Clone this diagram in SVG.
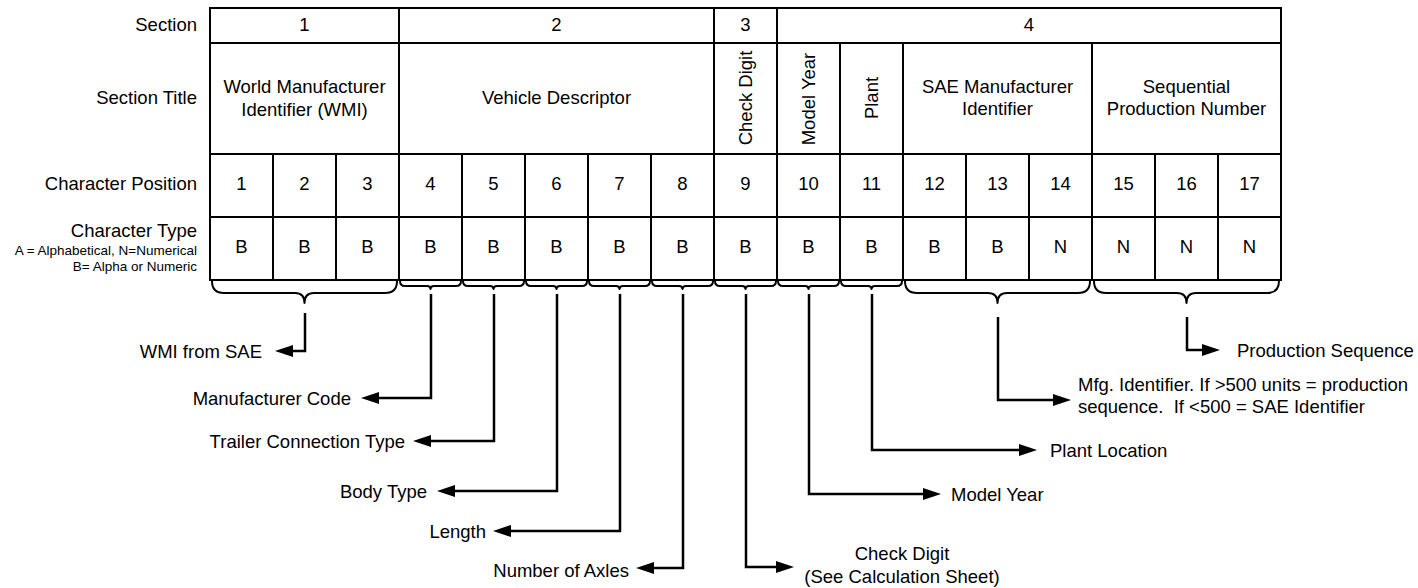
<svg xmlns="http://www.w3.org/2000/svg" width="1418" height="588" viewBox="0 0 1418 588">
<style>
text{font-family:"Liberation Sans",Arial,sans-serif;font-size:18.5px;fill:#000}
.m{text-anchor:middle}
.e{text-anchor:end}
.s{font-size:13.5px}
.grid{fill:none;stroke:#000;stroke-width:2}
.br{fill:none;stroke:#000;stroke-width:2;stroke-linejoin:round}
.c{fill:none;stroke:#000;stroke-width:2.5;marker-end:url(#ah)}
</style>
<defs>
<marker id="ah" markerUnits="userSpaceOnUse" viewBox="0 0 18 12" refX="8" refY="6" markerWidth="18" markerHeight="12" orient="auto">
<path d="M0,0 L18,6 L0,12 Z" fill="#000"/>
</marker>
</defs>
<rect width="1418" height="588" fill="#fff"/>

<g id="row-labels">
<text class="e" x="197" y="31">Section</text>
<text class="e" x="197" y="104">Section Title</text>
<text class="e" x="197" y="190">Character Position</text>
<text class="e" x="197" y="237">Character Type</text>
<text class="e s" x="197" y="255">A = Alphabetical, N=Numerical</text>
<text class="e s" x="197" y="271">B= Alpha or Numeric</text>
</g>

<g id="table">
<rect class="grid" x="210" y="8" width="1071" height="272"/>
<path class="grid" d="M210,43H1281 M210,154H1281 M210,217H1281 M399,8V280 M714,8V280 M777,8V280 M840,43V280 M903,43V280 M1092,43V280 M273,154V280 M336,154V280 M462,154V280 M525,154V280 M588,154V280 M651,154V280 M966,154V280 M1029,154V280 M1155,154V280 M1218,154V280"/>
</g>

<g id="sections">
<text class="m" x="304.5" y="31">1</text>
<text class="m" x="556.5" y="31">2</text>
<text class="m" x="745.5" y="31">3</text>
<text class="m" x="1029" y="31">4</text>
</g>

<g id="titles">
<text class="m" x="304.5" y="93">World Manufacturer</text>
<text class="m" x="304.5" y="116">Identifier (WMI)</text>
<text class="m" x="556.5" y="104">Vehicle Descriptor</text>
<text class="m" transform="rotate(-90 752 98)" x="752" y="98">Check Digit</text>
<text class="m" transform="rotate(-90 815 99)" x="815" y="99">Model Year</text>
<text class="m" transform="rotate(-90 878 98)" x="878" y="98">Plant</text>
<text class="m" x="997.5" y="93">SAE Manufacturer</text>
<text class="m" x="997.5" y="115">Identifier</text>
<text class="m" x="1186.5" y="93">Sequential</text>
<text class="m" x="1186.5" y="115">Production Number</text>
</g>

<g id="positions">
<text class="m" x="241.5" y="190">1</text>
<text class="m" x="304.5" y="190">2</text>
<text class="m" x="367.5" y="190">3</text>
<text class="m" x="430.5" y="190">4</text>
<text class="m" x="493.5" y="190">5</text>
<text class="m" x="556.5" y="190">6</text>
<text class="m" x="619.5" y="190">7</text>
<text class="m" x="682.5" y="190">8</text>
<text class="m" x="745.5" y="190">9</text>
<text class="m" x="808.5" y="190">10</text>
<text class="m" x="871.5" y="190">11</text>
<text class="m" x="934.5" y="190">12</text>
<text class="m" x="997.5" y="190">13</text>
<text class="m" x="1060.5" y="190">14</text>
<text class="m" x="1123.5" y="190">15</text>
<text class="m" x="1186.5" y="190">16</text>
<text class="m" x="1249.5" y="190">17</text>
</g>

<g id="types">
<text class="m" x="241.5" y="253">B</text>
<text class="m" x="304.5" y="253">B</text>
<text class="m" x="367.5" y="253">B</text>
<text class="m" x="430.5" y="253">B</text>
<text class="m" x="493.5" y="253">B</text>
<text class="m" x="556.5" y="253">B</text>
<text class="m" x="619.5" y="253">B</text>
<text class="m" x="682.5" y="253">B</text>
<text class="m" x="745.5" y="253">B</text>
<text class="m" x="808.5" y="253">B</text>
<text class="m" x="871.5" y="253">B</text>
<text class="m" x="934.5" y="253">B</text>
<text class="m" x="997.5" y="253">B</text>
<text class="m" x="1060.5" y="253">N</text>
<text class="m" x="1123.5" y="253">N</text>
<text class="m" x="1186.5" y="253">N</text>
<text class="m" x="1249.5" y="253">N</text>
</g>

<g id="braces">
<path class="br" d="M212,281 Q212,293 224,293 L295,293 Q304.5,293 304.5,303 Q304.5,293 314,293 L385,293 Q397,293 397,281"/>
<path class="br" d="M905,281 Q905,293 917,293 L988,293 Q997.5,293 997.5,303 Q997.5,293 1007,293 L1078,293 Q1090,293 1090,281"/>
<path class="br" d="M1094,281 Q1094,293 1106,293 L1177,293 Q1186.5,293 1186.5,303 Q1186.5,293 1196,293 L1267,293 Q1279,293 1279,281"/>
<path class="br" d="M400,281 Q400,286 405,286 L427,286 Q430.5,286 430.5,289 Q430.5,286 434,286 L456,286 Q461,286 461,281"/>
<path class="br" d="M463,281 Q463,286 468,286 L490,286 Q493.5,286 493.5,289 Q493.5,286 497,286 L519,286 Q524,286 524,281"/>
<path class="br" d="M526,281 Q526,286 531,286 L553,286 Q556.5,286 556.5,289 Q556.5,286 560,286 L582,286 Q587,286 587,281"/>
<path class="br" d="M589,281 Q589,286 594,286 L616,286 Q619.5,286 619.5,289 Q619.5,286 623,286 L645,286 Q650,286 650,281"/>
<path class="br" d="M652,281 Q652,286 657,286 L679,286 Q682.5,286 682.5,289 Q682.5,286 686,286 L708,286 Q713,286 713,281"/>
<path class="br" d="M715,281 Q715,286 720,286 L742,286 Q745.5,286 745.5,289 Q745.5,286 749,286 L771,286 Q776,286 776,281"/>
<path class="br" d="M778,281 Q778,286 783,286 L805,286 Q808.5,286 808.5,289 Q808.5,286 812,286 L834,286 Q839,286 839,281"/>
<path class="br" d="M841,281 Q841,286 846,286 L868,286 Q871.5,286 871.5,289 Q871.5,286 875,286 L897,286 Q902,286 902,281"/>
</g>

<g id="connectors">
<path class="c" d="M305,313 V351 H285"/>
<path class="c" d="M431,294 V398 H371"/>
<path class="c" d="M494,294 V441 H423"/>
<path class="c" d="M557,294 V491 H447"/>
<path class="c" d="M620,294 V531 H503"/>
<path class="c" d="M683,294 V568 H646"/>
<path class="c" d="M746,294 V567 H784"/>
<path class="c" d="M809,294 V494 H931"/>
<path class="c" d="M872,294 V450 H1027"/>
<path class="c" d="M998,317 V400 H1061"/>
<path class="c" d="M1187,317 V350 H1210"/>
</g>

<g id="outputs">
<text class="e" x="262" y="357.5">WMI from SAE</text>
<text class="e" x="351" y="404.5">Manufacturer Code</text>
<text class="e" x="405" y="447.5">Trailer Connection Type</text>
<text class="e" x="427" y="497.5">Body Type</text>
<text class="e" x="486" y="537.5">Length</text>
<text class="e" x="629" y="577">Number of Axles</text>
<text class="m" x="902" y="560">Check Digit</text>
<text class="m" x="902" y="583">(See Calculation Sheet)</text>
<text x="951" y="500.5">Model Year</text>
<text x="1050" y="456.5">Plant Location</text>
<text x="1078" y="391">Mfg. Identifier. If &gt;500 units = production</text>
<text x="1078" y="413" xml:space="preserve">sequence.  If &lt;500 = SAE Identifier</text>
<text x="1237" y="356.5">Production Sequence</text>
</g>
</svg>
